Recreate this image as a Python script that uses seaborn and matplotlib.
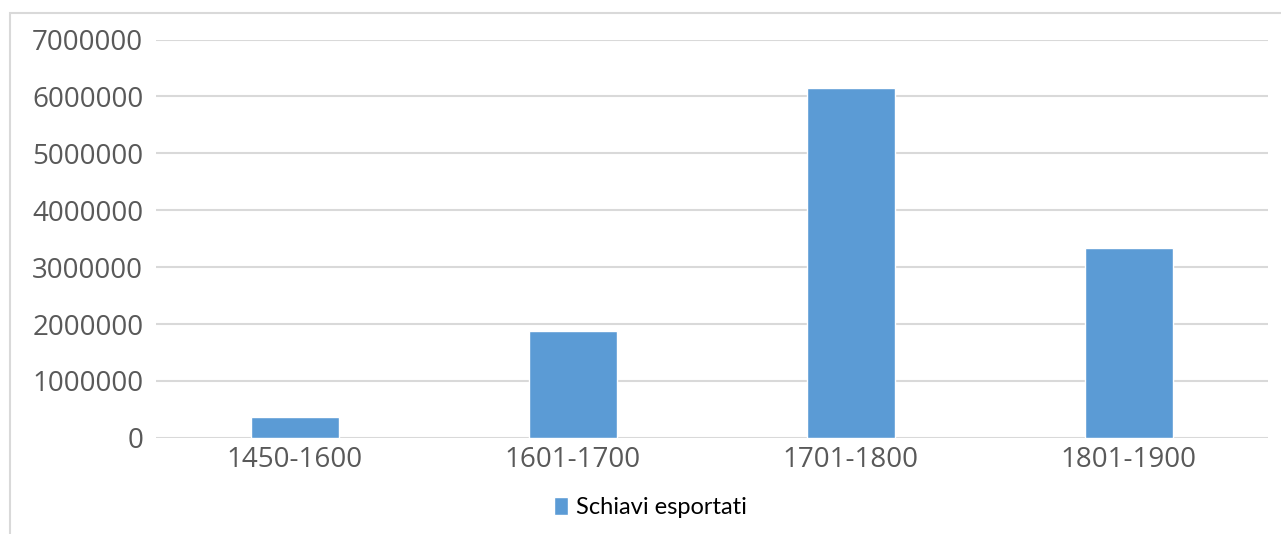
import matplotlib.pyplot as plt
import pandas as pd
import seaborn as sns
from matplotlib.patches import Rectangle

# data
periods = ['1450-1600', '1601-1700', '1701-1800', '1801-1900']
slaves = [363000, 1875000, 6147000, 3335000]
series_name = 'Schiavi esportati'

df = pd.DataFrame({'period': periods, 'value': slaves})

sns.set_style('white')
plt.rcParams['font.family'] = ['Open Sans', 'DejaVu Sans']

fig = plt.figure(figsize=(12.81, 5.34), dpi=100)
ax = fig.add_axes([0.1216, 0.180, 0.868, 0.746])

sns.barplot(data=df, x='period', y='value', color='#5B9BD5', saturation=1,
            width=0.317, label=series_name, ax=ax)

ax.set_ylim(0, 7000000)
ax.set_yticks(range(0, 7000001, 1000000))
ax.set_yticklabels([str(v) for v in range(0, 7000001, 1000000)])
ax.set_xlim(-0.5, 3.5)
ax.set_xlabel('')
ax.set_ylabel('')
ax.yaxis.grid(True, color='#D9D9D9', linewidth=1.5)
ax.set_axisbelow(True)
for s in ax.spines.values():
  s.set_visible(False)
ax.tick_params(axis='both', length=0, labelsize=20, labelcolor='#595959')
ax.tick_params(axis='y', pad=9)
ax.tick_params(axis='x', pad=6)

# legend centred on the whole chart area, like Excel does
leg = ax.legend(loc='center', bbox_to_anchor=(0.445, -0.175), frameon=False,
                prop={'family': ['Lato', 'DejaVu Sans'], 'size': 17},
                handlelength=0.6, handleheight=0.8, handletextpad=0.35)
for t in leg.get_texts():
  t.set_color('#000000')

# outer chart border
fig.patches.append(Rectangle((10 / 1281, -0.01), 1.2, 1 - 13 / 534 + 0.01,
                             transform=fig.transFigure, fill=False,
                             edgecolor='#D9D9D9', linewidth=1.5))

fig.savefig('out.png', dpi=100)
